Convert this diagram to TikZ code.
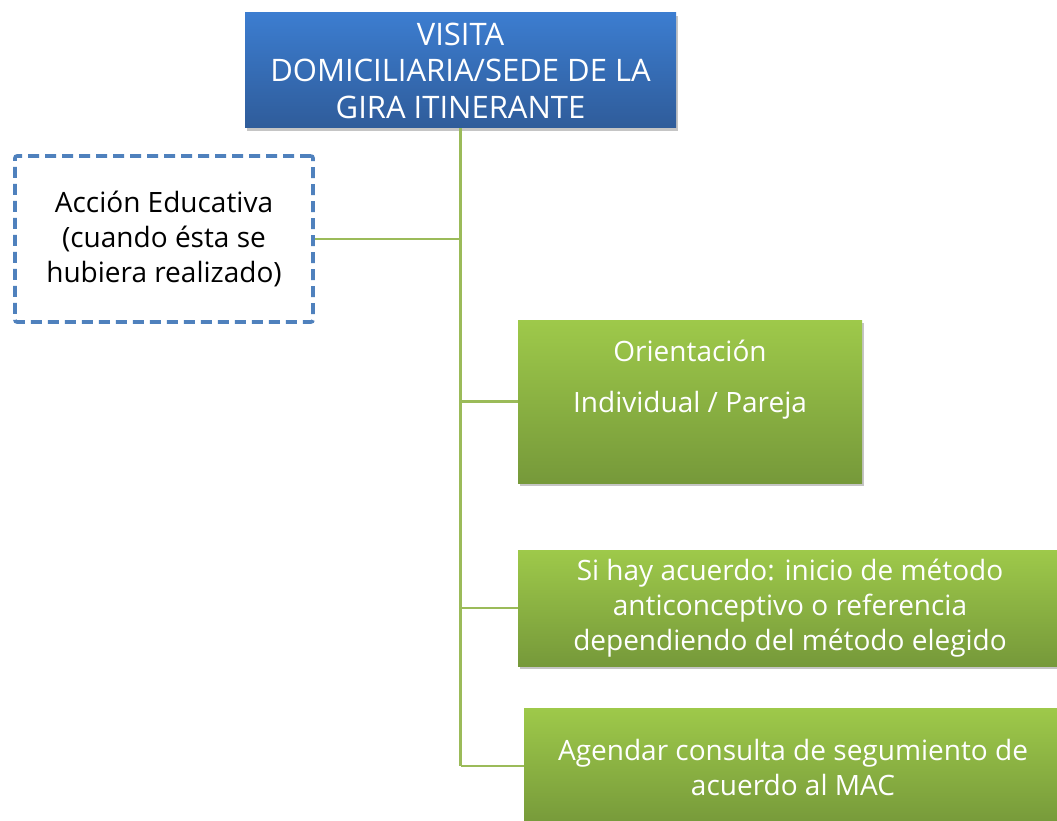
\documentclass[tikz,border=0pt]{standalone}
\usepackage{fontspec}
\setmainfont{Open Sans}
\usetikzlibrary{shadows,positioning}

\definecolor{topblue}{HTML}{3C7DD0}
\definecolor{botblue}{HTML}{2F5C9A}
\definecolor{topgreen}{HTML}{9EC94A}
\definecolor{botgreen}{HTML}{76993A}
\definecolor{dashblue}{HTML}{4F81BD}
\definecolor{linegreen}{HTML}{9BBB59}

\tikzset{
  bluebox/.style={rectangle, top color=topblue, bottom color=botblue, draw=none,
    text=white, align=center, inner sep=0pt, font=\fontsize{31}{36.5}\selectfont,
    drop shadow={opacity=0.45, shadow xshift=2pt, shadow yshift=-3pt}},
  greenbox/.style={rectangle, top color=topgreen, bottom color=botgreen, draw=none,
    text=white, align=center, inner sep=0pt,
    drop shadow={opacity=0.45, shadow xshift=2pt, shadow yshift=-3pt}},
  dashbox/.style={rectangle, draw=dashblue, line width=3.6pt, dash pattern=on 11pt off 6pt,
    rounded corners=2pt, align=center, inner sep=0pt, fill=white},
  link/.style={draw=linegreen, line width=2.2pt}
}

\begin{document}
\begin{tikzpicture}[x=1pt, y=-1pt, font=\fontsize{28}{35}\selectfont]
		\clip (0,0) rectangle (1057,821);
		\fill[white] (0,0) rectangle (1057,821);
		% Define nodes
		\node[bluebox, minimum width=431pt, minimum height=115pt] (visita) at (460.5,70.5)
			{VISITA\\DOMICILIARIA/SEDE DE LA\\GIRA ITINERANTE};
		\node[dashbox, minimum width=298pt, minimum height=166pt] (accion) at (164,239)
			{Acción Educativa\\(cuando ésta se\\hubiera realizado)};
		\node[greenbox, minimum width=344pt, minimum height=163pt] (orient) at (690,401.5)
			{Orientación\\[16pt]Individual / Pareja\\[4pt]\strut};
		\node[greenbox, minimum width=544pt, minimum height=116pt] (metodo) at (790,608)
			{Si hay acuerdo: inicio de método\\anticonceptivo o referencia\\dependiendo del método elegido};
		\node[greenbox, minimum width=538pt, minimum height=118pt] (agenda) at (793,767)
			{Agendar consulta de segumiento de\\acuerdo al MAC};
		\coordinate (fin) at (460.5,766);
		
		% Draw connectors
		\draw[link] (visita.south) -- (fin);
		\draw[link] (accion.east) -- (accion.east -| visita.south);
		\draw[link] (orient.west) -- (orient.west -| visita.south);
		\draw[link] (metodo.west) -- (metodo.west -| visita.south);
		\draw[link] (fin) -- (fin -| agenda.west);
	\end{tikzpicture}
\end{document}
